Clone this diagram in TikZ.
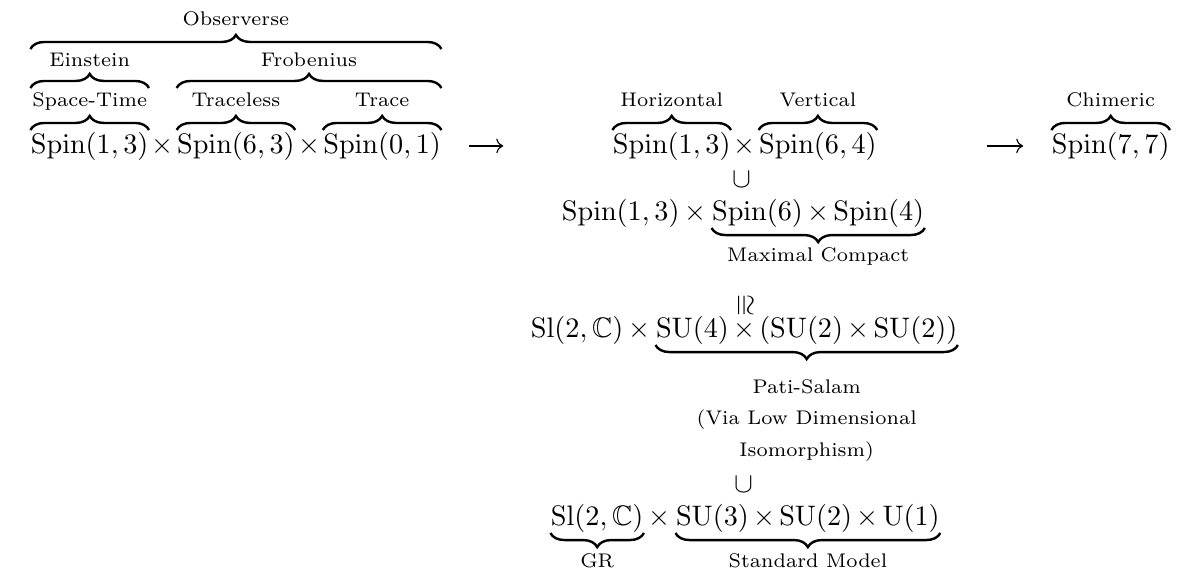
\documentclass[tikz,border=0pt]{standalone}
\usepackage{amssymb}
\usepackage{tikz}
\usetikzlibrary{positioning,arrows.meta,decorations.pathreplacing}
\medmuskip=2.7mu

\begin{document}
\begin{tikzpicture}[x=0.3546pt,y=-0.3546pt,node distance=1.5pt,
  grp/.style={inner sep=0pt},
  lbl/.style={inner sep=0pt,anchor=base,font=\scriptsize},
  over/.style={decorate,decoration={brace,amplitude=5pt},line width=0.85pt},
  under/.style={decorate,decoration={brace,amplitude=5pt,mirror},line width=0.85pt},
  map/.style={-{Computer Modern Rightarrow},line width=0.4pt}]
  \useasboundingbox (0,0) rectangle (1200,574);

  % observerse
  \node[grp,anchor=base west] (s13) at (30.4,153) {$\mathrm{Spin}(1,3)$};
  \node[grp] (t1) [base right=0.8pt of s13] {$\times$};
  \node[grp] (s63) [base right=0.8pt of t1] {$\mathrm{Spin}(6,3)$};
  \node[grp] (t2) [base right=0.8pt of s63] {$\times$};
  \node[grp] (s01) [base right=0.8pt of t2] {$\mathrm{Spin}(0,1)$};

  \draw[over] (s13.west |- 0,130) -- node[lbl,yshift=8.2pt] (spt) {Space-Time} (s13.east |- 0,130);
  \draw[over] (s63.west |- 0,130) -- node[lbl,yshift=8.2pt] (trl) {Traceless} (s63.east |- 0,130);
  \draw[over] (s01.west |- 0,130) -- node[lbl,yshift=8.2pt] (tr) {Trace} (s01.east |- 0,130);
  \draw[over] (s13.west |- 0,88) -- node[lbl,yshift=7.8pt] (ein) {Einstein} (s13.east |- 0,88);
  \draw[over] (s63.west |- 0,88) -- node[lbl,yshift=7.8pt] (frob) {Frobenius} (s01.east |- 0,88);
  \draw[over] (s13.west |- 0,49) -- node[lbl,yshift=8.2pt] (obs) {Observerse} (s01.east |- 0,49);

  % horizontal x vertical, chimeric
  \node[grp,anchor=base west] (h13) at (612.4,153) {$\mathrm{Spin}(1,3)$};
  \node[grp] (t3) [base right=0.8pt of h13] {$\times$};
  \node[grp] (v64) [base right=0.8pt of t3] {$\mathrm{Spin}(6,4)$};
  \node[grp,anchor=base west] (c77) at (1051.4,153) {$\mathrm{Spin}(7,7)$};

  \draw[over] (h13.west |- 0,130) -- node[lbl,yshift=8.2pt] (hor) {Horizontal} (h13.east |- 0,130);
  \draw[over] (v64.west |- 0,130) -- node[lbl,yshift=8.2pt] (ver) {Vertical} (v64.east |- 0,130);
  \draw[over] (c77.west |- 0,130) -- node[lbl,yshift=8.2pt] (chi) {Chimeric} (c77.east |- 0,130);

  \draw[map,shorten <=9.6pt,shorten >=38.7pt] (s01) -- (h13);
  \draw[map,shorten <=39pt,shorten >=10pt] (v64) -- (c77);

  % maximal compact
  \node[grp] (sub1) at (741.5,179.5) {$\cup$};
  \node[grp,anchor=base west] (r13) at (561.4,220) {$\mathrm{Spin}(1,3)$};
  \node[grp] (t4) [base right=of r13] {$\times$};
  \node[grp] (mc) [base right=of t4] {$\mathrm{Spin}(6)\times\mathrm{Spin}(4)$};
  \draw[under] (mc.west |- 0,228) -- node[lbl,yshift=-12pt] (mcl) {Maximal Compact} (mc.east |- 0,228);

  % pati-salam
  \node[grp,rotate=-90] (iso) at (744,305) {$\cong$};
  \node[grp,anchor=base west] (sl1) at (530.4,337) {$\mathrm{Sl}(2,\mathbb{C})$};
  \node[grp] (t5) [base right=of sl1] {$\times$};
  \node[grp] (ps) [base right=of t5] {$\mathrm{SU}(4)\times(\mathrm{SU}(2)\times\mathrm{SU}(2))$};
  \draw[under] (ps.west |- 0,345) -- node[lbl,anchor=north,align=center,yshift=-11.7pt] (psl)
    {Pati-Salam\\[3.3pt](Via Low Dimensional\\[3.3pt]Isomorphism)} (ps.east |- 0,345);

  % standard model
  \node[grp] (sub2) at (743.5,484.5) {$\cup$};
  \node[grp,anchor=base west] (sl2) at (550.4,525) {$\mathrm{Sl}(2,\mathbb{C})$};
  \node[grp] (t6) [base right=of sl2] {$\times$};
  \node[grp] (sm) [base right=of t6] {$\mathrm{SU}(3)\times\mathrm{SU}(2)\times\mathrm{U}(1)$};
  \draw[under] (sl2.west |- 0,533) -- node[lbl,yshift=-12.4pt] (gr) {GR} (sl2.east |- 0,533);
  \draw[under] (sm.west |- 0,533) -- node[lbl,yshift=-12.4pt] (sml) {Standard Model} (sm.east |- 0,533);
\end{tikzpicture}
\end{document}
